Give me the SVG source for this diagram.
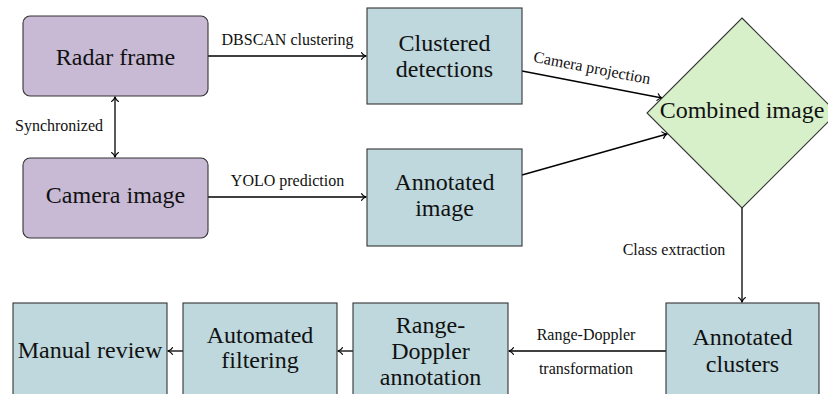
<svg xmlns="http://www.w3.org/2000/svg" width="828" height="394" viewBox="0 0 828 394">
<defs>
<marker id="a" markerUnits="userSpaceOnUse" markerWidth="12" markerHeight="12" viewBox="-6 -6 12 12" refX="0" refY="0" orient="auto-start-reverse">
<path d="M-4.5,-3.4 C-3.4,-1.6 -1.2,-0.4 0,0 C-1.2,0.4 -3.4,1.6 -4.5,3.4" fill="none" stroke="#000" stroke-width="1.1" stroke-linecap="round"/>
</marker>
</defs>
<rect width="828" height="394" fill="#fff"/>
<g id="edges" stroke="#000" stroke-width="1.3" fill="none">
<line x1="208" y1="56" x2="366" y2="56" marker-end="url(#a)"/>
<line x1="115" y1="97" x2="115" y2="157" marker-start="url(#a)" marker-end="url(#a)"/>
<line x1="208" y1="197" x2="366" y2="197" marker-end="url(#a)"/>
<line x1="522" y1="71" x2="662" y2="98" marker-end="url(#a)"/>
<line x1="522" y1="175" x2="667" y2="134" marker-end="url(#a)"/>
<line x1="742" y1="207" x2="742" y2="302" marker-end="url(#a)"/>
<line x1="666" y1="351" x2="509" y2="351" marker-end="url(#a)"/>
<line x1="353" y1="351" x2="338" y2="351" marker-end="url(#a)"/>
<line x1="183" y1="351" x2="168" y2="351" marker-end="url(#a)"/>
</g>
<g id="edge-labels" stroke="none" fill="#111" text-anchor="middle" font-family="Liberation Serif" font-size="16">
<text style="font-family:'Liberation Serif',serif !important" x="287.5" y="45">DBSCAN clustering</text>
<text style="font-family:'Liberation Serif',serif !important" x="59" y="131">Synchronized</text>
<text style="font-family:'Liberation Serif',serif !important" x="287.5" y="186">YOLO prediction</text>
<text style="font-family:'Liberation Serif',serif !important" transform="translate(591,73) rotate(10.9)" x="0" y="0">Camera projection</text>
<text style="font-family:'Liberation Serif',serif !important" x="674" y="255">Class extraction</text>
<text style="font-family:'Liberation Serif',serif !important" x="586" y="340">Range-Doppler</text>
<text style="font-family:'Liberation Serif',serif !important" x="586" y="374">transformation</text>
</g>
<g id="radar" font-family="Liberation Serif" font-size="24" text-anchor="middle">
<rect x="23" y="16" width="185" height="80" rx="7" fill="#C8B9D4" stroke="#333" stroke-width="1.1"/>
<text style="font-family:'Liberation Serif',serif !important" fill="#111" x="115.5" y="65">Radar frame</text>
</g>
<g id="camera" font-family="Liberation Serif" font-size="24" text-anchor="middle">
<rect x="23" y="158" width="185" height="80" rx="7" fill="#C8B9D4" stroke="#333" stroke-width="1.1"/>
<text style="font-family:'Liberation Serif',serif !important" fill="#111" x="115.5" y="203">Camera image</text>
</g>
<g id="clustered" font-family="Liberation Serif" font-size="24" text-anchor="middle">
<rect x="367" y="8" width="155" height="96" fill="#BED8DD" stroke="#333" stroke-width="1.1"/>
<text style="font-family:'Liberation Serif',serif !important" fill="#111" x="444.5" y="51">Clustered</text>
<text style="font-family:'Liberation Serif',serif !important" fill="#111" x="444.5" y="77">detections</text>
</g>
<g id="annotated-image" font-family="Liberation Serif" font-size="24" text-anchor="middle">
<rect x="367" y="149" width="155" height="97" fill="#BED8DD" stroke="#333" stroke-width="1.1"/>
<text style="font-family:'Liberation Serif',serif !important" fill="#111" x="444.5" y="190">Annotated</text>
<text style="font-family:'Liberation Serif',serif !important" fill="#111" x="444.5" y="216">image</text>
</g>
<g id="combined" font-family="Liberation Serif" font-size="24" text-anchor="middle">
<polygon points="742,18 837,113 742,208 647,113" fill="#D8F0C9" stroke="#333" stroke-width="1.1"/>
<text style="font-family:'Liberation Serif',serif !important" fill="#111" x="742" y="118">Combined image</text>
</g>
<g id="annotated-clusters" font-family="Liberation Serif" font-size="24" text-anchor="middle">
<rect x="666" y="303" width="153" height="96" fill="#BED8DD" stroke="#333" stroke-width="1.1"/>
<text style="font-family:'Liberation Serif',serif !important" fill="#111" x="742.5" y="345">Annotated</text>
<text style="font-family:'Liberation Serif',serif !important" fill="#111" x="742.5" y="372">clusters</text>
</g>
<g id="range-doppler" font-family="Liberation Serif" font-size="24" text-anchor="middle">
<rect x="353" y="303" width="155" height="100" fill="#BED8DD" stroke="#333" stroke-width="1.1"/>
<text style="font-family:'Liberation Serif',serif !important" fill="#111" x="430.5" y="333">Range-</text>
<text style="font-family:'Liberation Serif',serif !important" fill="#111" x="430.5" y="359">Doppler</text>
<text style="font-family:'Liberation Serif',serif !important" fill="#111" x="430.5" y="385">annotation</text>
</g>
<g id="automated" font-family="Liberation Serif" font-size="24" text-anchor="middle">
<rect x="183" y="303" width="154" height="96" fill="#BED8DD" stroke="#333" stroke-width="1.1"/>
<text style="font-family:'Liberation Serif',serif !important" fill="#111" x="260" y="343">Automated</text>
<text style="font-family:'Liberation Serif',serif !important" fill="#111" x="260" y="368">filtering</text>
</g>
<g id="manual" font-family="Liberation Serif" font-size="24" text-anchor="middle">
<rect x="13" y="303" width="154" height="96" fill="#BED8DD" stroke="#333" stroke-width="1.1"/>
<text style="font-family:'Liberation Serif',serif !important" fill="#111" x="90" y="358">Manual review</text>
</g>
</svg>
